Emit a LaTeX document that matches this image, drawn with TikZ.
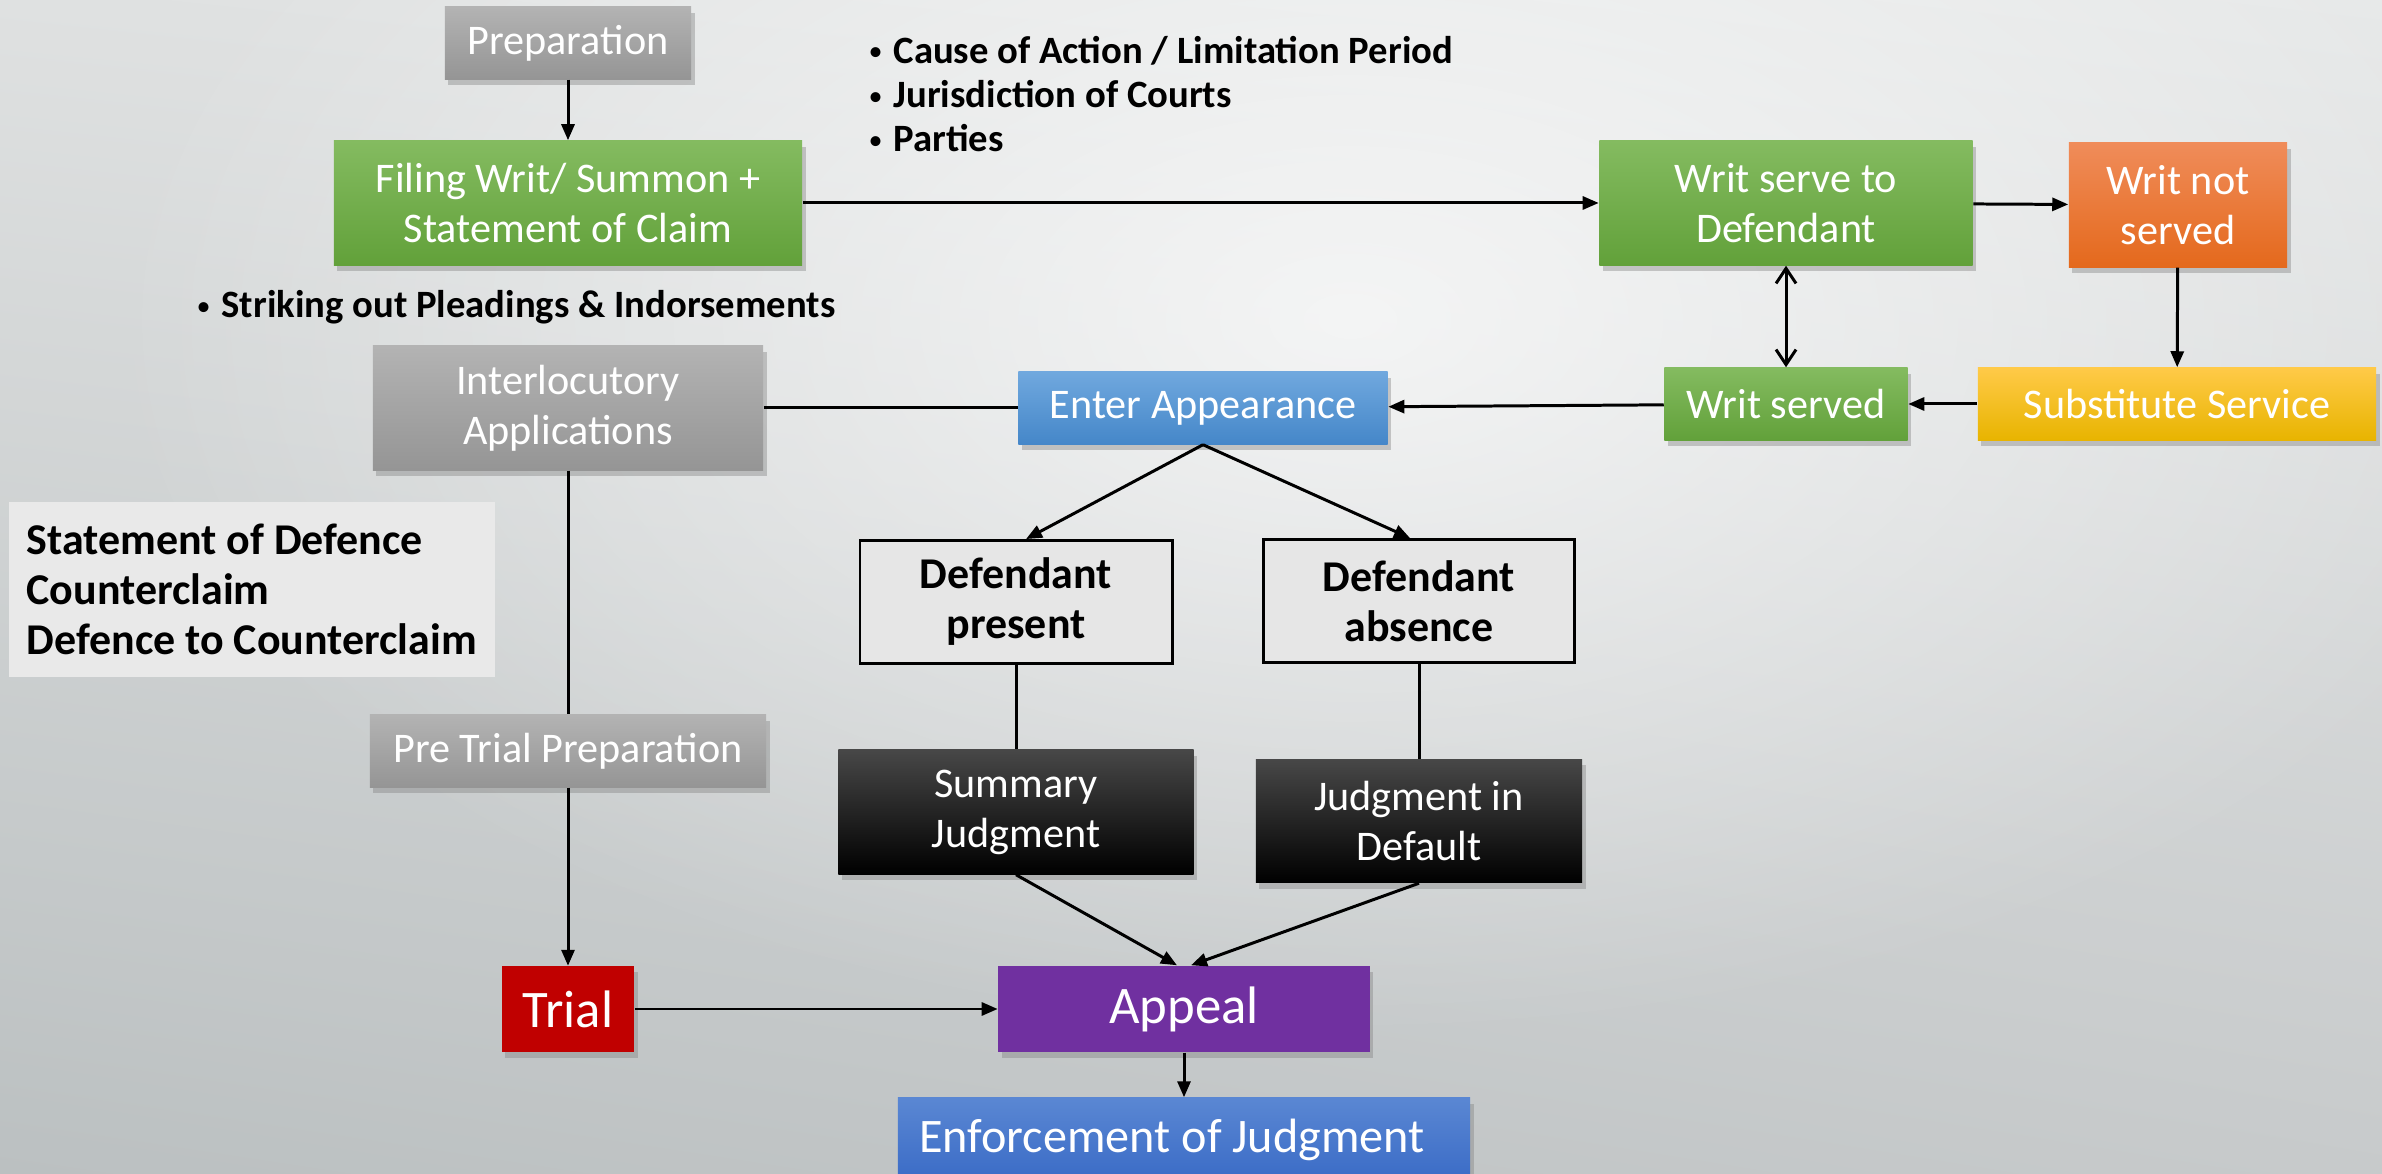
\documentclass[tikz,border=0pt]{standalone}
\usepackage{fontspec}
\setmainfont{Carlito}
\usetikzlibrary{arrows.meta,shadows,shadings,fadings}

\definecolor{bgTL}{HTML}{DFE1E1}
\definecolor{bgTR}{HTML}{E6E8E8}
\definecolor{bgBL}{HTML}{BBC0C1}
\definecolor{bgBR}{HTML}{C7CACB}
\definecolor{grayT}{HTML}{B3B3B3}
\definecolor{grayB}{HTML}{959595}
\definecolor{greenT}{HTML}{84BB60}
\definecolor{greenB}{HTML}{62A13A}
\definecolor{orangeT}{HTML}{F08C5A}
\definecolor{orangeB}{HTML}{E4691C}
\definecolor{yellowT}{HTML}{FFCA48}
\definecolor{yellowB}{HTML}{E8B400}
\definecolor{blueT}{HTML}{70A8DE}
\definecolor{blueB}{HTML}{4587C9}
\definecolor{enfT}{HTML}{5A87D3}
\definecolor{enfB}{HTML}{3A6BC6}
\definecolor{trialred}{HTML}{C00000}
\definecolor{appealviolet}{HTML}{7030A0}
\definecolor{choicefill}{HTML}{E6E6E6}
\definecolor{notefill}{HTML}{E9E9E9}

\tikzfading[name=glow,inner color=transparent!0,outer color=transparent!100]

\def\stagefont{\fontsize{12}{14.2}\selectfont}
\def\itm#1{{\mdseries\raisebox{0.12ex}{\fontsize{8}{8}\selectfont\textbullet}}\hspace{0.28em}#1}

\begin{document}
\begin{tikzpicture}[x=0.01cm,y=-0.01cm,
  stage/.style={rectangle,inner sep=0pt,align=center,text=white,font=\stagefont,
    drop shadow={shadow xshift=0.35mm,shadow yshift=-0.6mm,opacity=0.4}},
  graybox/.style={stage,top color=grayT,bottom color=grayB},
  greenbox/.style={stage,top color=greenT,bottom color=greenB},
  orangebox/.style={stage,top color=orangeT,bottom color=orangeB},
  yellowbox/.style={stage,top color=yellowT,bottom color=yellowB},
  bluebox/.style={stage,top color=blueT,bottom color=blueB},
  blackbox/.style={stage,top color=black!72,middle color=black,bottom color=black},
  choice/.style={rectangle,draw=black,line width=0.8pt,fill=choicefill,align=center,
    inner sep=0pt,font=\fontsize{12.5}{14.2}\selectfont\bfseries},
  link/.style={line width=0.85pt},
  arr/.style={link,-{Triangle[length=1.6mm,width=1.3mm]}},
  dbl/.style={link,{Straight Barb[length=1.5mm,width=2mm]}-{Straight Barb[length=1.5mm,width=2mm]}}]

\useasboundingbox (0,0) rectangle (2382,1174);
\clip (0,0) rectangle (2382,1174);

% backdrop
\shade[upper left=bgTL,upper right=bgTR,lower left=bgBL,lower right=bgBR] (0,0) rectangle (2382,1174);
\fill[white,path fading=glow,fill opacity=0.7] (1350,320) ellipse (1250 and 720);

% notes
\node[anchor=west,align=left,inner sep=0pt,font=\fontsize{11}{12.6}\selectfont\bfseries] (issues) at (868,94)
  {\itm{Cause of Action / Limitation Period}\\\itm{Jurisdiction of Courts}\\\itm{Parties}};
\node[anchor=west,inner sep=0pt,font=\fontsize{11}{12.6}\selectfont\bfseries] (strike) at (196,307)
  {\itm{Striking out Pleadings \& Indorsements}};
\node[anchor=west,fill=notefill,minimum height=1.75cm,inner xsep=0.18cm,
  align=left,font=\fontsize{12.5}{14.2}\selectfont\bfseries] (plead) at (8,589.5)
  {Statement of Defence\\Counterclaim\\Defence to Counterclaim};

% left column
\node[graybox,minimum width=2.46cm,minimum height=0.72cm] (prep) at (568,43) {Preparation};
\node[greenbox,minimum width=4.68cm,minimum height=1.24cm] (filing) at (568,203) {Filing Writ/ Summon +\\Statement of Claim};
\node[graybox,minimum width=3.90cm,minimum height=1.24cm] (interloc) at (568,408) {Interlocutory\\Applications};
\node[graybox,minimum width=3.96cm,minimum height=0.72cm] (pretrial) at (568,751) {Pre Trial Preparation};
\node[stage,fill=trialred,minimum width=1.32cm,minimum height=0.85cm,font=\fontsize{15}{18}\selectfont] (trial) at (568,1009) {Trial};

% service
\node[greenbox,minimum width=3.73cm,minimum height=1.24cm] (serve) at (1786,203) {Writ serve to\\Defendant};
\node[orangebox,minimum width=2.18cm,minimum height=1.24cm] (notserved) at (2178,205) {Writ not\\served};
\node[greenbox,minimum width=2.43cm,minimum height=0.72cm] (served) at (1786,404) {Writ served};
\node[yellowbox,minimum width=3.98cm,minimum height=0.72cm] (subst) at (2177,404) {Substitute Service};
\node[bluebox,minimum width=3.69cm,minimum height=0.72cm] (appear) at (1203,408) {Enter Appearance};

% judgment
\node[choice,minimum width=3.12cm,minimum height=1.23cm] (present) at (1016,602) {Defendant\\present};
\node[choice,minimum width=3.11cm,minimum height=1.23cm] (absent) at (1419,601) {Defendant\\absence};
\node[blackbox,minimum width=3.55cm,minimum height=1.24cm] (summary) at (1016,812) {Summary\\Judgment};
\node[blackbox,minimum width=3.26cm,minimum height=1.23cm] (default) at (1419,821) {Judgment in\\Default};
\node[stage,fill=appealviolet,minimum width=3.71cm,minimum height=0.86cm,font=\fontsize{15}{18}\selectfont] (appeal) at (1184,1009) {Appeal};
\node[stage,top color=enfT,bottom color=enfB,minimum width=5.72cm,minimum height=0.84cm,font=\fontsize{13.7}{16}\selectfont] (enforce) at (1184,1140) {Enforcement of Judgment\hspace*{0.24cm}};

\draw[arr] (prep) -- (filing);
\draw[arr] (filing) -- (serve);
\draw[arr] (serve) -- (notserved);
\draw[arr] (notserved) -- (subst);
\draw[arr] (subst) -- (served);
\draw[dbl] (serve) -- (served);
\draw[arr] (served) -- (appear);
\draw[link] (interloc) -- (appear);
\draw[link] (interloc) -- (pretrial);
\draw[arr] (pretrial) -- (trial);
\draw[arr] (trial) -- (appeal);
\draw[arr] (appeal) -- (enforce);
\draw[arr] (appear.south) -- ([xshift=0.1cm]present.north);
\draw[arr] (appear.south) -- ([xshift=-0.09cm]absent.north);
\draw[link] (present) -- (summary);
\draw[link] (absent) -- (default);
\draw[arr] (summary.south) -- ([xshift=-0.07cm]appeal.north);
\draw[arr] (default.south) -- ([xshift=0.07cm]appeal.north);
\end{tikzpicture}
\end{document}
